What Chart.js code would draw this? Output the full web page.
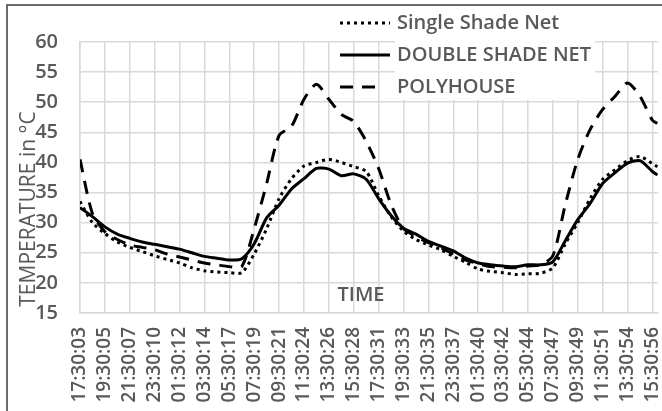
<!DOCTYPE html>
<html>
<head>
<meta charset="utf-8">
<script src="https://cdn.jsdelivr.net/npm/chart.js@4.4.1/dist/chart.umd.min.js"></script>
<style>
  html, body { margin: 0; padding: 0; background: #fff; }
  #wrap { width: 662px; height: 411px; }
</style>
</head>
<body>
<div id="wrap"><canvas id="myChart" width="662" height="411"></canvas></div>
<script>
// hours since 17:30:03 on day 1
const hours = [0, 1, 2, 3, 4, 5, 6, 7, 8, 9, 10, 11, 12, 13, 14, 15, 16, 17, 18, 19, 20, 21, 22, 23,
    24, 25, 26, 27, 28, 29, 30, 31, 32, 33, 34, 35, 36, 37, 38, 39, 40, 41, 42, 43, 44, 45, 46, 46.4];

const tickLabels = ["17:30:03", "19:30:05", "21:30:07", "23:30:10", "01:30:12", "03:30:14",
    "05:30:17", "07:30:19", "09:30:21", "11:30:24", "13:30:26", "15:30:28", "17:30:31",
    "19:30:33", "21:30:35", "23:30:37", "01:30:40", "03:30:42", "05:30:44", "07:30:47",
    "09:30:49", "11:30:51", "13:30:54", "15:30:56"];

const singleShade = [33.5, 30, 28.2, 26.8, 25.9, 25.2, 24.5, 23.9, 23.3, 22.5, 22, 21.8, 21.7, 21.7,
    24.8, 29, 34, 37.3, 39.4, 40, 40.5, 40, 39.3, 38.5, 34.5, 31, 28.6, 27.2, 26.3, 25.5, 24.4,
    23.4, 22.3, 21.9, 21.7, 21.4, 21.5, 21.6, 22.5, 26.5, 30, 34, 37.2, 38.8, 40.3, 41, 39.8, 39.3];

const doubleShade = [32.5, 31, 29.3, 28.1, 27.4, 26.8, 26.4, 26, 25.6, 25, 24.4, 24.1, 23.8, 24,
    26.5, 30.8, 32.9, 35.6, 37.3, 39, 38.9, 37.8, 38.1, 37.2, 34, 31.2, 29.1, 28.1, 26.9, 26.1,
    25.3, 24.1, 23.3, 23, 22.8, 22.7, 23, 23, 23.5, 27, 30.5, 33.2, 36.5, 38.3, 39.9, 40.3, 38.5, 37.9];

const polyhouse = [40.5, 31.5, 28.5, 27.2, 26.3, 25.9, 25.5, 24.8, 24.3, 23.8, 23.3, 23, 22.7, 22.7,
    29, 36.5, 44.5, 46, 50.5, 53, 50.5, 48, 46.8, 43.5, 39, 33, 29, 27.7, 26.7, 25.8, 24.8,
    23.8, 23.2, 22.7, 22.6, 22.5, 22.8, 23, 24.5, 33, 40.5, 45.5, 48.8, 51, 53.2, 51, 47, 46.5];

const textColor = "#595959";
const fontFamily = "'Open Sans', 'Noto Sans', sans-serif";

function points(values) {
    return values.map((v, i) => ({ x: hours[i], y: v }));
}

const series = [
    { label: "Single Shade Net", data: singleShade, dash: [3, 4] },
    { label: "DOUBLE SHADE NET", data: doubleShade, dash: [] },
    { label: "POLYHOUSE", data: polyhouse, dash: [13, 9] },
];

// frame, axis title, TIME label and the legend drawn on the canvas
const decorations = {
    id: "decorations",
    afterDatasetsDraw(chart) {
        const ctx = chart.ctx;
        const area = chart.chartArea;
        ctx.save();

        // outer frame (top and left edges visible)
        ctx.strokeStyle = "#6b6b6b";
        ctx.lineWidth = 2;
        ctx.beginPath();
        ctx.moveTo(7, 420);
        ctx.lineTo(7, 5);
        ctx.lineTo(670, 5);
        ctx.stroke();

        // y axis title
        ctx.fillStyle = textColor;
        ctx.font = "400 21px " + fontFamily;
        ctx.textAlign = "center";
        ctx.textBaseline = "middle";
        ctx.translate(29, 209);
        ctx.rotate(-Math.PI / 2);
        ctx.fillText("TEMPERATURE in °C", 0, 0);
        ctx.setTransform(1, 0, 0, 1, 0, 0);

        // TIME label inside the plot
        ctx.font = "600 20px " + fontFamily;
        ctx.fillText("TIME", 361, area.bottom - 18);

        // legend
        ctx.fillStyle = "#fff";
        ctx.fillRect(395, 40, 200, 60);
        series.forEach((s, i) => {
            const y = 23 + i * 32;
            ctx.strokeStyle = "#000";
            ctx.lineWidth = 3;
            ctx.setLineDash(s.dash);
            ctx.beginPath();
            ctx.moveTo(340, y);
            ctx.lineTo(i === 2 ? 384 : 390, y);
            ctx.stroke();
            ctx.setLineDash([]);
            ctx.fillStyle = textColor;
            ctx.textAlign = "left";
            ctx.font = "600 20px " + fontFamily;
            ctx.fillText(s.label, 397, y);
        });
        ctx.restore();
    }
};

const config = {
    type: "line",
    data: {
        datasets: series.map(s => ({
            label: s.label,
            data: points(s.data),
            borderColor: "#000",
            borderWidth: 3,
            borderDash: s.dash,
            pointRadius: 0,
            tension: 0.25,
            fill: false,
        })),
    },
    options: {
        responsive: false,
        animation: false,
        layout: { padding: { left: 35, top: 42, right: 4, bottom: 8 } },
        plugins: {
            legend: { display: false },
            tooltip: { enabled: false },
        },
        scales: {
            x: {
                type: "linear",
                min: 0,
                max: 46.45,
                afterBuildTicks: (scale) => {
                    scale.ticks = tickLabels.map((_, i) => ({ value: i * 2 }));
                },
                afterFit: (scale) => {
                    // rotated labels may touch the edges, like the original
                    scale.paddingLeft = 0;
                    scale.paddingRight = 0;
                    scale.height = 90;
                },
                ticks: {
                    autoSkip: false,
                    maxRotation: 90,
                    minRotation: 90,
                    padding: 14,
                    color: textColor,
                    font: { family: fontFamily, size: 19, weight: "600" },
                    callback: (v) => tickLabels[Math.round(v / 2)],
                },
                grid: { color: "#d9d9d9", lineWidth: 1.5, drawTicks: false },
                border: { color: "#d9d9d9", width: 1.5 },
            },
            y: {
                min: 15,
                max: 60,
                afterFit: (scale) => {
                    scale.width = 45;
                },
                ticks: {
                    stepSize: 5,
                    padding: 22,
                    color: textColor,
                    font: { family: fontFamily, size: 20, weight: "600" },
                },
                grid: { color: "#d9d9d9", lineWidth: 1.5, drawTicks: false },
                border: { color: "#d9d9d9", width: 1.5 },
            },
        },
    },
    plugins: [decorations],
};

const myChart = new Chart(document.getElementById("myChart"), config);
</script>
</body>
</html>
